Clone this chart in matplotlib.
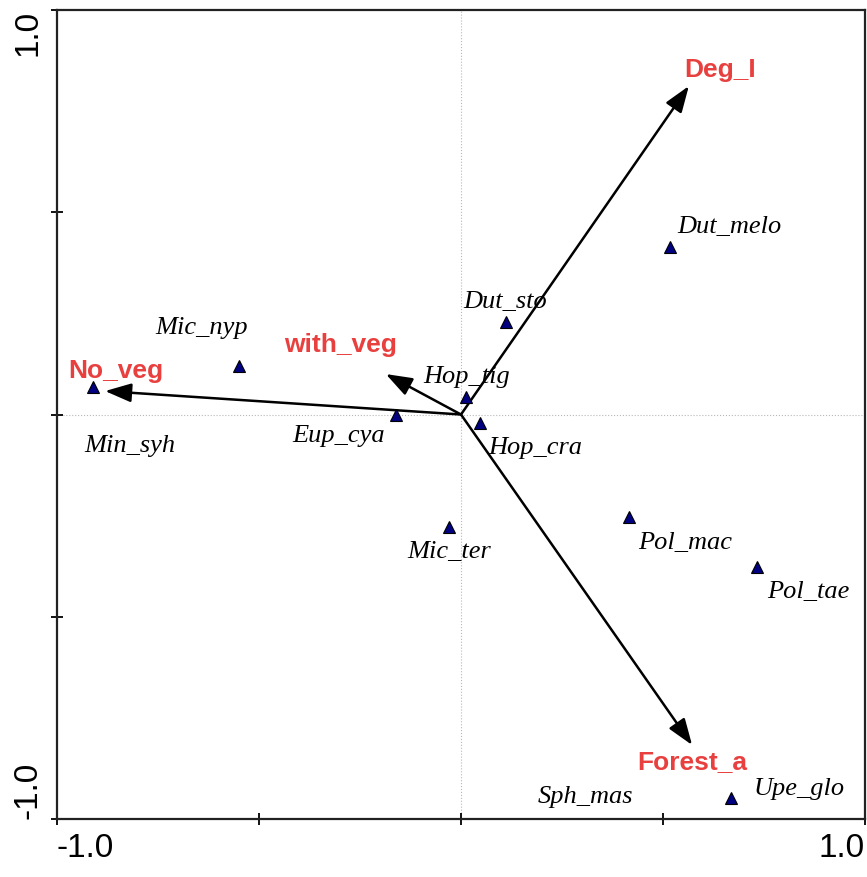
import matplotlib
matplotlib.use("Agg")
import matplotlib.pyplot as plt

# species scores (axis 1, axis 2)
species = ["Min_syh", "Mic_nyp", "Eup_cya", "Hop_tig", "Hop_cra", "Dut_sto",
           "Dut_melo", "Mic_ter", "Pol_mac", "Pol_tae", "Upe_glo", "Sph_mas"]
sp_x = [-0.911, -0.550, -0.161, 0.012, 0.047, 0.111,
        0.517, -0.030, 0.416, 0.733, 0.668, 0.173]
sp_y = [0.068, 0.120, 0.000, 0.043, -0.021, 0.229,
        0.414, -0.278, -0.253, -0.377, -0.948, -1.030]

# environmental variable arrows
env = ["Deg_I", "Forest_a", "No_veg", "with_veg"]
env_x = [0.564, 0.572, -0.881, -0.186]
env_y = [0.812, -0.817, 0.058, 0.100]

# label offsets in pixels
sp_off = [(37, -59), (-37, 38), (-57, -21), (1, 20), (55, -25), (-1, 20),
          (60, 20), (0, -25), (56, -26), (51, -25), (68, 9), (55, 34)]
env_off = [(31, 16), (0, -17), (11, 20), (-45, 29)]

red = "#E8403F"

fig = plt.figure(figsize=(8.67, 8.77), dpi=100)
ax = fig.add_axes([0.0657, 0.0661, 0.932, 0.9225])
ax.set_xlim(-1, 1)
ax.set_ylim(-1, 1)

ax.axhline(0, color="#b8b8b8", lw=0.8, ls=":", zorder=0)
ax.axvline(0, color="#b8b8b8", lw=0.8, ls=":", zorder=0)

for name, x, y in zip(env, env_x, env_y):
    ax.annotate("", xy=(x, y), xytext=(0, 0),
                arrowprops=dict(arrowstyle="-|>,head_length=0.5,head_width=0.18",
                                mutation_scale=32, lw=1.8,
                                color="black", shrinkA=0, shrinkB=0))

ax.plot(sp_x, sp_y, ls="none", marker="^", ms=9, mfc="#000080",
        mec="black", mew=0.8, zorder=3)

for name, x, y, (dx, dy) in zip(species, sp_x, sp_y, sp_off):
    ax.annotate(name, (x, y), xytext=(dx, dy), textcoords="offset pixels",
                ha="center", va="center", fontsize=19, style="italic",
                family="Liberation Serif", annotation_clip=False)

for name, x, y, (dx, dy) in zip(env, env_x, env_y, env_off):
    ax.annotate(name, (x, y), xytext=(dx, dy), textcoords="offset pixels",
                ha="center", va="center", fontsize=19, fontweight="bold",
                family="Liberation Sans", color=red, annotation_clip=False)

ticks = [-1, -0.5, 0, 0.5, 1]
labels = ["-1.0", "", "", "", "1.0"]
ax.set_xticks(ticks)
ax.set_xticklabels(labels, fontsize=24, family="Liberation Sans")
ax.set_yticks(ticks)
ax.set_yticklabels(labels, fontsize=24, family="Liberation Sans",
                   rotation=90, va="center")
xl = ax.get_xticklabels()
xl[0].set_ha("left")
xl[-1].set_ha("right")
yl = ax.get_yticklabels()
yl[0].set_va("bottom")
yl[-1].set_va("top")

ax.tick_params(direction="inout", length=8, width=1.3, pad=6)
for s in ax.spines.values():
    s.set_linewidth(1.6)
    s.set_color("#222222")

fig.savefig("out.png", dpi=100)
